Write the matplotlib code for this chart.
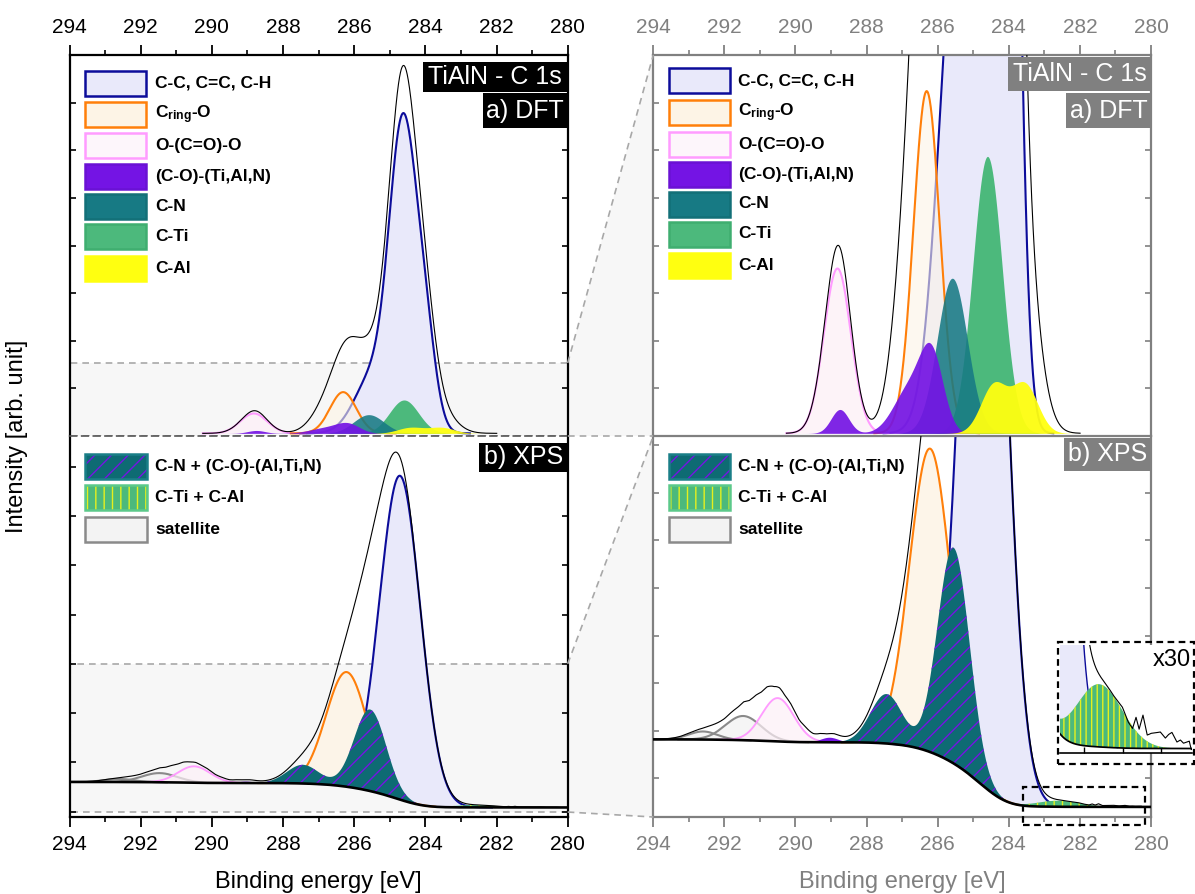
import numpy as np
import matplotlib
matplotlib.use('Agg')
import matplotlib.pyplot as plt
from matplotlib.patches import Rectangle, Polygon
from matplotlib.lines import Line2D

plt.rcParams['font.family'] = ['Liberation Sans', 'DejaVu Sans']
plt.rcParams['mathtext.fontset'] = 'custom'
plt.rcParams['mathtext.rm'] = 'Liberation Sans'
plt.rcParams['mathtext.bf'] = 'Liberation Sans:bold'
plt.rcParams['mathtext.default'] = 'bf'
plt.rcParams['hatch.linewidth'] = 1.0

# ------------------------------------------------------------------ data
energy_ticks = [294, 292, 290, 288, 286, 284, 282, 280]
energy_minor = list(range(280, 295))

# DFT components: (centre eV, height, sigma eV)  -- heights in % of left DFT axis
dft_cc = [(284.63, 79.0, 0.38), (284.00, 22.0, 0.30), (285.50, 14.5, 0.50)]
dft_cring_o = [(286.31, 10.9, 0.37)]
dft_occo = [(288.82, 5.25, 0.38)]
dft_co_tialn = [(286.17, 2.3, 0.33), (286.80, 1.4, 0.45), (288.75, 0.76, 0.25)]
dft_cn = [(285.59, 4.94, 0.425)]
dft_cti = [(284.60, 8.82, 0.41)]
dft_cal = [(284.42, 1.54, 0.365), (283.55, 1.54, 0.365)]
dft_total_extra = [(286.80, 4.8, 0.40), (286.10, 3.0, 0.40), (283.60, 4.17, 0.43),
                   (284.65, 1.8, 0.40)]

# XPS components above Shirley background (centre eV, height, sigma eV)
xps_bg_low, xps_bg_high = 2.5, 9.2
xps_cc = [(284.71, 85.0, 0.57)]
xps_cring_o = [(286.21, 30.1, 0.58)]
xps_occo = [(290.50, 4.3, 0.45)]
xps_cn_co = [(285.55, 21.4, 0.45), (287.44, 4.9, 0.45)]
xps_co_small = [(289.05, 0.5, 0.25)]
xps_cti_cal = [(282.61, 0.6, 0.6)]
xps_satellite_1 = [(291.47, 2.4, 0.50)]
xps_satellite_2 = [(292.60, 0.8, 0.40)]
xps_noise_ev = [294.0, 293.5, 293.0, 292.6, 292.3, 292.0, 291.8, 291.6, 291.45, 291.3, 291.1,
                290.95, 290.8, 290.6, 290.45, 290.3, 290.1, 289.9, 289.7, 289.5, 289.3,
                289.1, 288.9, 288.6, 288.3, 288.0, 287.7, 287.5,
                283.7, 282.2, 282.0, 281.85, 281.74, 281.65, 281.57, 281.47, 281.36, 281.25,
                281.15, 281.02, 280.89, 280.8, 280.72, 280.59, 280.5, 280.42, 280.27, 280.22, 280.0]
xps_noise_d = [0.0, 0.05, 0.1, 0.15, 0.3, 0.45, 0.65, 0.75, 0.95, 0.8, 0.95,
               0.85, 0.95, 0.7, 0.75, 0.55, 0.65, 0.45, 0.55, 0.4, 0.45,
               0.3, 0.4, 0.3, 0.25, 0.15, 0.05, 0.0,
               0.0, 0.0, 0.03, -0.02, -0.02, 0.13, 0.05, 0.22, 0.06, 0.10,
               0.12, 0.14, 0.09, 0.13, 0.15, 0.06, 0.08, 0.05, 0.07, -0.01, 0.0]

dft_legend = ['C-C, C=C, C-H', 'C$_{ring}$-O', 'O-(C=O)-O', '(C-O)-(Ti,Al,N)', 'C-N', 'C-Ti', 'C-Al']
xps_legend = ['C-N + (C-O)-(Al,Ti,N)', 'C-Ti + C-Al', 'satellite']

left_dft_ylim = (-0.7, 100.0)
right_dft_ylim = (-0.085, 12.05)
left_xps_ylim = (0.0, 100.0)
right_xps_ylim = (1.5, 39.3)
inset_xlim = (283.62, 280.2)
inset_ylim = (2.46, 3.49)
dft_zoom_rect = (-0.7, 18.6)
xps_zoom_rect = (1.3, 40.2)

# ------------------------------------------------------------------ colours
BLUE = '#0c0c9a'; LAV = '#e9e9fa'
ORANGE = '#ff7f0a'; CREAM = '#fdf4e6'
PINK = '#ff9cff'; PINKF = '#fdf0f7'
PURPLE = '#7414e4'; TEAL = '#177a84'; TEALX = '#0e6b73'
GREEN = '#4cb97c'; YELLOW = '#ffff10'
SATL = '#8a8a8a'; SATF = '#f3f3f3'
GREYAX = '#808080'

W, H = 1195, 894
fig = plt.figure(figsize=(W / 100, H / 100), dpi=100)

def fx(px):
    return px / W

def fy(py):
    return 1 - py / H

def add_axes_px(x0, y0, x1, y1, **kw):
    return fig.add_axes([fx(x0), fy(y1), (x1 - x0) / W, (y1 - y0) / H], **kw)

x = np.linspace(280, 294, 2801)

def gsum(plist, xx=x):
    y = np.zeros_like(xx)
    for c, h, s in plist:
        y = y + h * np.exp(-0.5 * ((xx - c) / s) ** 2)
    return y

def visible(base, comp, thr):
    out = base + comp
    return np.where(comp > thr, out, np.nan)

# DFT curves
d_cc = gsum(dft_cc); d_or = gsum(dft_cring_o); d_pk = gsum(dft_occo)
d_pu = gsum(dft_co_tialn); d_cn = gsum(dft_cn); d_ti = gsum(dft_cti); d_al = gsum(dft_cal)
d_env = d_cc + d_or + d_pk + d_pu + d_cn + d_ti + d_al + gsum(dft_total_extra)

# XPS curves
x_cc = gsum(xps_cc); x_or = gsum(xps_cring_o); x_pk = gsum(xps_occo)
x_cn = gsum(xps_cn_co); x_pu = gsum(xps_co_small); x_ti = gsum(xps_cti_cal)
x_s1 = gsum(xps_satellite_1); x_s2 = gsum(xps_satellite_2)
x_tot = x_cc + x_or + x_pk + x_cn + x_pu + x_ti + x_s1 + x_s2
cum = np.cumsum(x_tot)
bg = xps_bg_low + (xps_bg_high - xps_bg_low) * cum / cum[-1]
x_env = bg + x_tot + np.interp(x, xps_noise_ev[::-1], xps_noise_d[::-1])

# ------------------------------------------------------------------ drawing helpers
def draw_dft(ax, lw=1.5, thr=0.004):
    z = np.zeros_like(x)
    ax.fill_between(x, 0, d_cc, color=LAV, lw=0, zorder=1)
    ax.plot(x, visible(z, d_cc, thr), color=BLUE, lw=lw, zorder=1.1)
    ax.fill_between(x, 0, d_pk, color=PINKF, alpha=0.8, lw=0, zorder=1.2)
    ax.plot(x, visible(z, d_pk, thr), color=PINK, lw=lw, zorder=1.3)
    ax.fill_between(x, 0, d_or, color=CREAM, alpha=0.6, lw=0, zorder=1.4)
    ax.plot(x, visible(z, d_or, thr), color=ORANGE, lw=lw, zorder=1.5)
    ax.fill_between(x, 0, d_ti, color=GREEN, lw=0, zorder=2.0)
    ax.fill_between(x, 0, d_cn, color=TEAL, alpha=0.88, lw=0, zorder=2.1)
    ax.fill_between(x, 0, d_pu, color=PURPLE, alpha=0.92, lw=0, zorder=2.2)
    ax.fill_between(x, 0, d_al, color=YELLOW, alpha=0.95, lw=0, zorder=2.3)
    ax.plot(x, visible(z, d_env, thr), color='black', lw=0.8, zorder=3)

def draw_xps(ax, lw=1.5, hatch_cn='//', hatch_ti='||', thr=0.003):
    ax.fill_between(x, bg, bg + x_cc, color=LAV, lw=0, zorder=1)
    ax.plot(x, visible(bg, x_cc, thr), color=BLUE, lw=lw, zorder=1.1)
    for s in (x_s2, x_s1):
        ax.fill_between(x, bg, bg + s, color=SATF, alpha=0.8, lw=0, zorder=1.2)
        ax.plot(x, visible(bg, s, thr), color=SATL, lw=lw, zorder=1.25)
    ax.fill_between(x, bg, bg + x_pk, color=PINKF, alpha=0.7, lw=0, zorder=1.3)
    ax.plot(x, visible(bg, x_pk, thr), color=PINK, lw=lw * 0.9, zorder=1.35)
    ax.fill_between(x, bg, bg + x_or, color=CREAM, alpha=0.85, lw=0, zorder=1.4)
    ax.plot(x, visible(bg, x_or, thr), color=ORANGE, lw=lw, zorder=1.45)
    ax.fill_between(x, bg, bg + x_cn, facecolor=TEALX, edgecolor=PURPLE,
                    hatch=hatch_cn, lw=0, zorder=2.0)
    ax.fill_between(x, bg, bg + x_pu, color=PURPLE, lw=0, zorder=2.1)
    ax.fill_between(x, bg, bg + x_ti, facecolor=GREEN, edgecolor='#e6f01e',
                    hatch=hatch_ti, lw=0, zorder=2.2)
    ax.plot(x, bg, color='black', lw=lw * 1.25, zorder=3)
    ax.plot(x, x_env, color='black', lw=0.8, zorder=3.1)

def style_axis(ax, color, kind, ytick_px, ylim, height_px):
    ax.set_xlim(294, 280)
    ax.set_ylim(*ylim)
    ax.set_xticks(energy_ticks)
    ax.set_xticks(energy_minor, minor=True)
    ax.set_yticks([ylim[0] + p / height_px * (ylim[1] - ylim[0]) for p in ytick_px])
    ax.tick_params(axis='y', which='both', direction='in', left=True, right=True,
                   labelleft=False, length=4.5, width=1.2, color=color)
    if kind == 'dft':
        ax.tick_params(axis='x', which='both', top=True, bottom=False, labeltop=True,
                       labelbottom=False, direction='out', color=color, labelcolor=color)
    else:
        ax.tick_params(axis='x', which='both', top=False, bottom=True, labeltop=False,
                       labelbottom=True, direction='out', color=color, labelcolor=color)
    ax.tick_params(axis='x', which='major', length=7, width=1.3, labelsize=15, pad=6)
    ax.tick_params(axis='x', which='minor', length=3.6, width=1.2)
    for sp in ax.spines.values():
        sp.set_color(color)
        sp.set_linewidth(1.6)

# ------------------------------------------------------------------ axes
LX0, LX1, RX0, RX1 = 69.5, 567.7, 653.3, 1151.0
TOP, MID, BOT = 55.0, 436.0, 817.0

ax_ld = add_axes_px(LX0, TOP, LX1, MID)
ax_lx = add_axes_px(LX0, MID, LX1, BOT)
ax_rd = add_axes_px(RX0, TOP, RX1, MID)
ax_rx = add_axes_px(RX0, MID, RX1, BOT)

dft_ticks_px = [47.6 * k for k in range(1, 8)]
lxps_ticks_px = [5.3 + 49.3 * k for k in range(0, 8)]
rxps_ticks_px = [38.7 + 47.6 * k for k in range(0, 8)]

for ax in (ax_ld, ax_rd):
    draw_dft(ax)
for ax in (ax_lx, ax_rx):
    draw_xps(ax)

style_axis(ax_ld, 'black', 'dft', dft_ticks_px, left_dft_ylim, MID - TOP)
style_axis(ax_lx, 'black', 'xps', lxps_ticks_px, left_xps_ylim, BOT - MID)
style_axis(ax_rd, GREYAX, 'dft', dft_ticks_px, right_dft_ylim, MID - TOP)
style_axis(ax_rx, GREYAX, 'xps', rxps_ticks_px, right_xps_ylim, BOT - MID)

ax_ld.spines['bottom'].set_visible(False)
ax_lx.spines['top'].set_linestyle((0, (4, 3)))
ax_lx.spines['top'].set_color('#555555')
ax_lx.spines['top'].set_linewidth(1.2)
ax_rd.spines['bottom'].set_visible(False)

# zoom rectangles in left panels
for ax, (y0, y1) in ((ax_ld, dft_zoom_rect), (ax_lx, xps_zoom_rect)):
    ax.add_patch(Rectangle((280, y0), 14, y1 - y0, facecolor='#f7f7f7', edgecolor='#a8a8a8',
                           ls=(0, (4, 3)), lw=1.2, zorder=0.5))

# connectors between panels
def px_line(p0, p1, **kw):
    fig.add_artist(Line2D([fx(p0[0]), fx(p1[0])], [fy(p0[1]), fy(p1[1])],
                          transform=fig.transFigure, **kw))

def px_poly(pts, **kw):
    fig.add_artist(Polygon([(fx(a), fy(b)) for a, b in pts], closed=True,
                           transform=fig.transFigure, **kw))

y_dft_rect_top = MID - (dft_zoom_rect[1] - left_dft_ylim[0]) / (left_dft_ylim[1] - left_dft_ylim[0]) * (MID - TOP)
y_xps_rect_top = BOT - (xps_zoom_rect[1] - left_xps_ylim[0]) / (left_xps_ylim[1] - left_xps_ylim[0]) * (BOT - MID)
y_xps_rect_bot = BOT - (xps_zoom_rect[0] - left_xps_ylim[0]) / (left_xps_ylim[1] - left_xps_ylim[0]) * (BOT - MID)

px_poly([(LX1, y_dft_rect_top), (RX0, TOP), (RX0, MID), (LX1, MID)], facecolor='#f7f7f7', edgecolor='none', zorder=-1)
px_poly([(LX1, y_xps_rect_top), (RX0, MID), (RX0, BOT), (LX1, y_xps_rect_bot)], facecolor='#f7f7f7', edgecolor='none', zorder=-1)
dash = dict(color='#a8a8a8', lw=1.2, ls=(0, (4, 3)))
px_line((LX1, y_dft_rect_top), (RX0, TOP), **dash)
px_line((LX1, MID), (RX0, MID), **dash)
px_line((LX1, y_xps_rect_top), (RX0, MID), **dash)
px_line((LX1, y_xps_rect_bot), (RX0, BOT), **dash)

# ------------------------------------------------------------------ label boxes
def px_box(x0, y0, x1, y1, color, text):
    fig.add_artist(Rectangle((fx(x0), fy(y1)), (x1 - x0) / W, (y1 - y0) / H,
                             transform=fig.transFigure, facecolor=color, edgecolor='none', zorder=4))
    fig.text(fx((x0 + x1) / 2), fy((y0 + y1) / 2), text, color='white', fontsize=18,
             ha='center', va='center', zorder=5)

px_box(423, 61.7, LX1, 91.7, 'black', 'TiAlN - C 1s')
px_box(483, 93.3, LX1, 128.3, 'black', 'a) DFT')
px_box(479.3, 443.3, LX1, 471.7, 'black', 'b) XPS')
px_box(1007.8, 57, RX1, 91, GREYAX, 'TiAlN - C 1s')
px_box(1066.3, 93.3, RX1, 128.3, GREYAX, 'a) DFT')
px_box(1063.5, 437.5, RX1, 470.7, GREYAX, 'b) XPS')

# ------------------------------------------------------------------ legends
dft_leg_style = [(LAV, BLUE), (CREAM, ORANGE), ('#fdf6fb', PINK), (PURPLE, '#6a12d4'),
                 (TEAL, '#137078'), (GREEN, '#3fae70'), (YELLOW, YELLOW)]

def legend_dft(px0, px1, tx, rows):
    for (fc, ec), lab, yc in zip(dft_leg_style, dft_legend, rows):
        fig.add_artist(Rectangle((fx(px0), fy(yc + 12.5)), (px1 - px0) / W, 25 / H,
                                 transform=fig.transFigure, facecolor=fc, edgecolor=ec,
                                 lw=1.8, zorder=4))
        fig.text(fx(tx), fy(yc), lab, fontsize=12.5, fontweight='bold', ha='left',
                 va='center', zorder=5)

def legend_xps(px0, px1, tx, rows):
    specs = [(TEALX, '#1a7f88', PURPLE, '//'), (GREEN, '#5cc98a', '#e6f01e', '||'),
             (SATF, SATL, None, None)]
    for (fc, ec, hc, ht), lab, yc in zip(specs, xps_legend, rows):
        rect = ((fx(px0), fy(yc + 12.5)), (px1 - px0) / W, 25 / H)
        fig.add_artist(Rectangle(*rect, transform=fig.transFigure, facecolor=fc,
                                 edgecolor='none', zorder=4))
        if ht:
            fig.add_artist(Rectangle(*rect, transform=fig.transFigure, facecolor='none',
                                     edgecolor=hc, hatch=ht, lw=0, zorder=4.1))
        fig.add_artist(Rectangle(*rect, transform=fig.transFigure, facecolor='none',
                                 edgecolor=ec, lw=1.8, zorder=4.2))
        fig.text(fx(tx), fy(yc), lab, fontsize=12.5, fontweight='bold', ha='left',
                 va='center', zorder=5)

legend_dft(85, 146, 155, [83.3, 114.3, 145.7, 176.0, 206.7, 236.7, 268.3])
legend_dft(669, 730, 738.5, [80.7, 112.3, 144.0, 174.3, 204.0, 234.0, 265.0])
legend_xps(85, 146.7, 155, [466.7, 497.7, 529.0])
legend_xps(669, 730, 738.5, [466.7, 497.7, 529.0])

# ------------------------------------------------------------------ inset (x30)
ax_in = add_axes_px(1060, 645, 1192, 752.7, zorder=5)
draw_xps(ax_in, lw=1.0, hatch_cn='///', hatch_ti='|||')
ax_in.set_xlim(*inset_xlim)
ax_in.set_ylim(*inset_ylim)
ax_in.set_xticks([283, 282, 281])
ax_in.set_yticks([])
ax_in.tick_params(axis='x', direction='in', length=4, width=1.0, labelbottom=False)
for k in ('left', 'right', 'top'):
    ax_in.spines[k].set_visible(False)
ax_in.spines['bottom'].set_linewidth(1.2)

def px_dashrect(x0, y0, x1, y1, z):
    fig.add_artist(Rectangle((fx(x0), fy(y1)), (x1 - x0) / W, (y1 - y0) / H,
                             transform=fig.transFigure, facecolor='none', edgecolor='black',
                             lw=1.6, ls=(0, (3, 2)), zorder=z, clip_on=False))

px_dashrect(1058.3, 641.7, 1194, 764, 7)
px_dashrect(1022.7, 786.7, 1145, 825, 7)
fig.text(fx(1171.7), fy(660.5), 'x30', fontsize=17, ha='center', va='center', zorder=8)

# ------------------------------------------------------------------ axis titles
fig.text(fx(17), fy(436), 'Intensity [arb. unit]', rotation=90, fontsize=17,
         ha='center', va='center')
fig.text(fx((LX0 + LX1) / 2), fy(882), 'Binding energy [eV]', fontsize=17,
         ha='center', va='center')
fig.text(fx((RX0 + RX1) / 2), fy(882), 'Binding energy [eV]', fontsize=17,
         ha='center', va='center', color=GREYAX)

fig.savefig('out.png', dpi=100)
